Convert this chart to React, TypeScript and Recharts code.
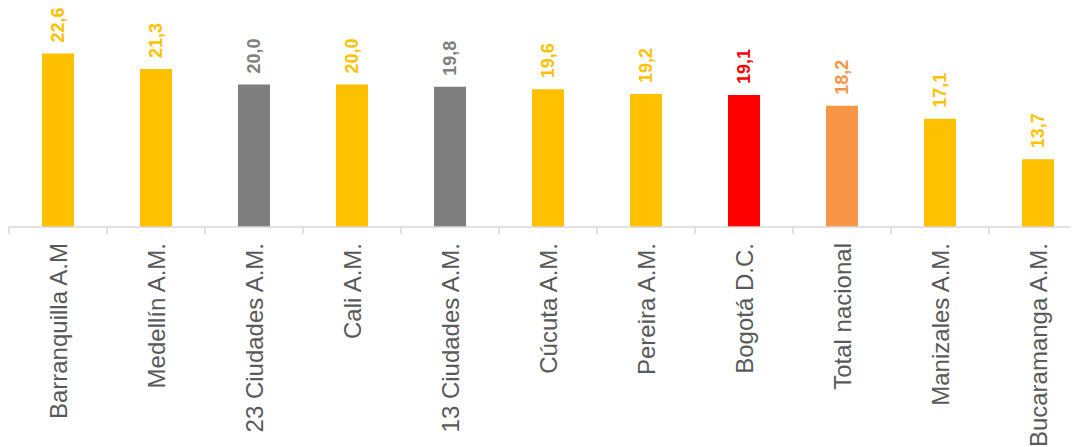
import { BarChart, Bar, XAxis, YAxis, Cell, LabelList } from 'recharts'

const categories = [
  'Barranquilla A.M',
  'Medellín A.M.',
  '23 Ciudades A.M.',
  'Cali A.M.',
  '13 Ciudades A.M.',
  'Cúcuta A.M.',
  'Pereira A.M.',
  'Bogotá D.C.',
  'Total nacional',
  'Manizales A.M.',
  'Bucaramanga A.M.',
]
const values = [22.6, 21.3, 20.0, 20.0, 19.8, 19.6, 19.2, 19.1, 18.2, 17.1, 13.7]
const barKinds = ['city', 'city', 'group', 'city', 'group', 'city', 'city', 'capital', 'total', 'city', 'city']

const kindColor: Record<string, string> = {
  city: '#FFC000',
  group: '#7F7F7F',
  capital: '#FF0000',
  total: '#F79646',
}

const chartData = categories.map((name, i) => ({ name, value: values[i], kind: barKinds[i] }))

const FONT = 'Arial, "Liberation Sans", sans-serif'
const AXIS_GRAY = '#D9D9D9'

// category label below the axis, plus the boundary tick marks
const CategoryTick = ({ x, y, payload, index }: any) => {
  const half = payload?.offset ?? 49
  return (
    <g>
      <line x1={x - half} y1={y} x2={x - half} y2={y + 7} stroke={AXIS_GRAY} strokeWidth={1.5} />
      {index === categories.length - 1 && (
        <line x1={x + half} y1={y} x2={x + half} y2={y + 7} stroke={AXIS_GRAY} strokeWidth={1.5} />
      )}
      <text
        x={x}
        y={y + 16}
        transform={`rotate(-90, ${x}, ${y + 16})`}
        textAnchor="end"
        dominantBaseline="central"
        fontSize={24}
        fontFamily={FONT}
        fill="#595959"
      >
        {payload.value}
      </text>
    </g>
  )
}

// value label rotated above each bar
const ValueLabel = ({ x, y, width, value, index }: any) => {
  const cx = x + width / 2
  const ty = y - 11
  return (
    <text
      x={cx}
      y={ty}
      transform={`rotate(-90, ${cx}, ${ty})`}
      textAnchor="start"
      dominantBaseline="central"
      fontSize={18}
      fontWeight="bold"
      fontFamily={FONT}
      fill={kindColor[barKinds[index]]}
    >
      {Number(value).toFixed(1).replace('.', ',')}
    </text>
  )
}

export default function App() {
  return (
    <div style={{ width: 1070, height: 439, overflow: 'hidden' }}>
      <BarChart
        width={1080}
        height={439}
        data={chartData}
        margin={{ top: 17, right: 1, left: 1, bottom: 0 }}
        barCategoryGap={0}
      >
        <XAxis
          dataKey="name"
          interval={0}
          height={220}
          tickLine={false}
          tickSize={0}
          tickMargin={0}
          axisLine={{ stroke: AXIS_GRAY, strokeWidth: 1.5 }}
          tick={<CategoryTick />}
        />
        <YAxis hide domain={[8, 25]} allowDataOverflow />
        <Bar dataKey="value" barSize={32} isAnimationActive={false}>
          {chartData.map((d, i) => (
            <Cell key={i} fill={kindColor[d.kind]} />
          ))}
          <LabelList dataKey="value" content={<ValueLabel />} />
        </Bar>
      </BarChart>
    </div>
  )
}
